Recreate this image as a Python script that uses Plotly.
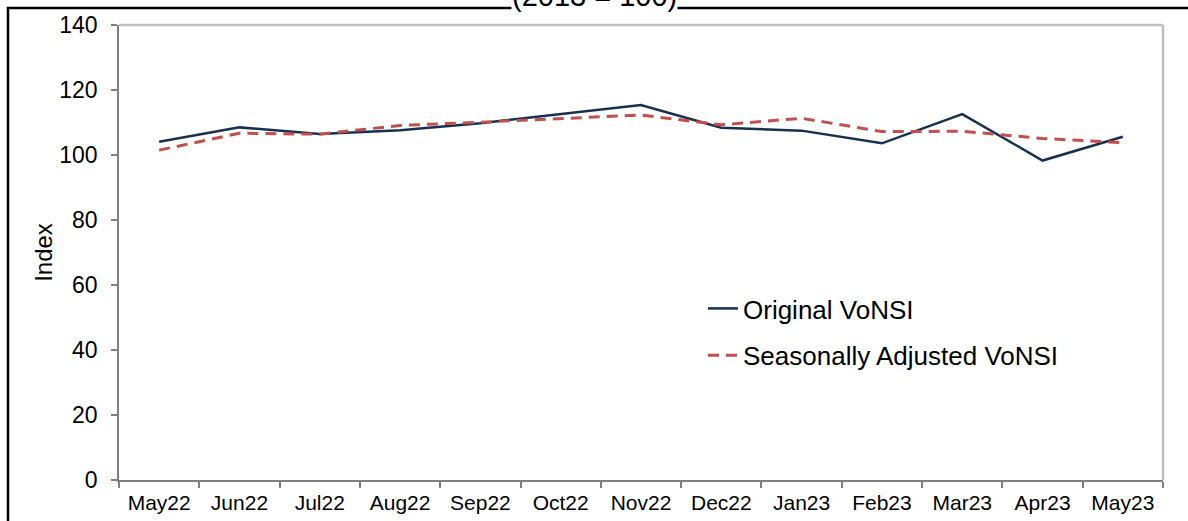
import plotly.graph_objects as go

months = ["May22", "Jun22", "Jul22", "Aug22", "Sep22", "Oct22", "Nov22",
          "Dec22", "Jan23", "Feb23", "Mar23", "Apr23", "May23"]
original = [104.1, 108.5, 106.5, 107.6, 109.8, 112.6, 115.4,
            108.4, 107.5, 103.6, 112.6, 98.3, 105.6]
seasonal = [101.5, 106.7, 106.4, 109.1, 110.1, 111.1, 112.3,
            109.3, 111.3, 107.2, 107.3, 105.1, 103.8]
y_ticks = [0, 20, 40, 60, 80, 100, 120, 140]

FONT = "Arial, Liberation Sans, sans-serif"
NAVY = "#17304F"
RED = "#C0504D"

fig = go.Figure()
fig.add_trace(go.Scatter(x=months, y=original, mode="lines", name="Original VoNSI",
                         line=dict(color=NAVY, width=2.5), legendgroup="a"))
fig.add_trace(go.Scatter(x=months, y=seasonal, mode="lines", name="Seasonally Adjusted VoNSI",
                         line=dict(color=RED, width=3, dash="11px,7px"), legendgroup="b"))

W, H = 1188, 521
L, R, T, B = 119, 25, 25, 41
pw, ph = W - L - R, H - T - B

def px_x(p):
    return (p - L) / pw

def px_y(p):
    return 1 - (p - T) / ph

fig.update_layout(
    width=W, height=H,
    margin=dict(l=L, r=R, t=T, b=B, pad=0, autoexpand=False),
    paper_bgcolor="white", plot_bgcolor="white",
    font=dict(family=FONT, color="black"),
    showlegend=True,
    legend=dict(x=px_x(703), y=px_y(285), xanchor="left", yanchor="top",
                font=dict(size=26, family=FONT), bgcolor="rgba(0,0,0,0)",
                tracegroupgap=10, itemwidth=30),
    xaxis=dict(type="category", categoryorder="array", categoryarray=months,
               range=[-0.5, len(months) - 0.5], showgrid=False, zeroline=False,
               showline=True, linecolor="#7F7F7F", linewidth=1.5,
               ticks="outside", ticklen=6, tickcolor="#7F7F7F", tickwidth=1.5,
               tickson="boundaries", tickfont=dict(size=21, family=FONT),
               ticklabelstandoff=3, automargin=False),
    yaxis=dict(range=[0, 140], tickvals=y_ticks, showgrid=False, zeroline=False,
               showline=True, linecolor="#7F7F7F", linewidth=1.5,
               ticks="outside", ticklen=6, tickcolor="#7F7F7F", tickwidth=1.5,
               tickfont=dict(size=23, family=FONT), ticklabelstandoff=9,
               automargin=False,
               title=dict(text="Index", font=dict(size=24, family=FONT), standoff=0)),
    shapes=[
        dict(type="line", xref="paper", yref="paper", x0=0, x1=1, y0=1, y1=1,
             line=dict(color="#BFBFBF", width=2.5), layer="below"),
        dict(type="line", xref="paper", yref="paper", x0=1, x1=1, y0=0, y1=1,
             line=dict(color="#BFBFBF", width=2.5), layer="below"),
        dict(type="rect", xref="paper", yref="paper", x0=px_x(8), x1=px_x(1300),
             y0=px_y(700), y1=px_y(8), line=dict(color="black", width=2.5),
             fillcolor="rgba(0,0,0,0)", layer="above"),
    ],
    annotations=[
        dict(text="(2013 = 100)", xref="paper", yref="paper", x=px_x(594), y=px_y(13),
             xanchor="center", yanchor="bottom", showarrow=False,
             font=dict(size=29, family=FONT, color="black"),
             bgcolor="white", borderpad=0),
    ],
)

fig.write_html("out.html", config={"displayModeBar": False},
               post_script="document.body.style.margin='0';")
